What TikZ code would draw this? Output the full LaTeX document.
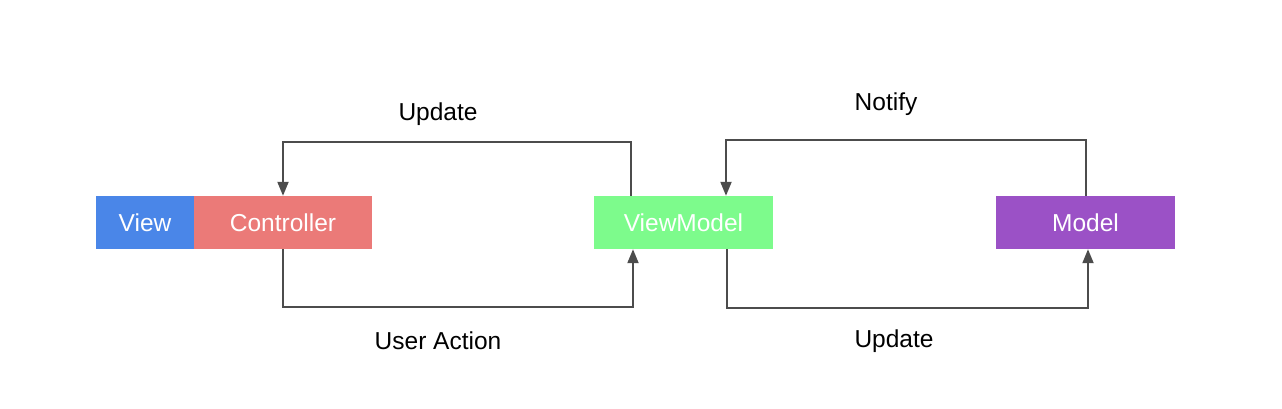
\documentclass[tikz,border=0pt]{standalone}
\usepackage{fontspec}
\setmainfont{Liberation Sans}
\usepackage{tikz}
\usetikzlibrary{arrows.meta}
\definecolor{viewblue}{HTML}{4A86E8}
\definecolor{ctrlred}{HTML}{EB7A78}
\definecolor{vmgreen}{HTML}{7DFB8C}
\definecolor{modelpurple}{HTML}{9B51C6}
\tikzset{part/.style={rectangle, inner sep=0pt, minimum height=53pt, text=white,
    font=\fontsize{24.5}{28}\selectfont}}
\tikzset{flow/.style={draw=black!70, line width=2pt,
    -{Triangle[length=14pt,width=11pt]}}}
\tikzset{lbl/.style={font=\fontsize{24.5}{28}\selectfont}}

\begin{document}
\begin{tikzpicture}[x=1pt,y=-1pt]
  \useasboundingbox (0,0) rectangle (1282,408);
  \foreach \x/\w/\col/\name/\txt in {
    145/98/viewblue/view/View,
    283/178/ctrlred/ctrl/Controller,
    683.5/179/vmgreen/vm/ViewModel,
    1085.5/179/modelpurple/model/Model%
  } {
    \node[part, fill=\col, minimum width=\w pt] (\name) at (\x, 222.5) {\txt};
  }

  \foreach \x/\y/\name/\txt in {
    438/114/updtop/Update,
    886/104/notify/Notify,
    438/341/useract/User Action,
    894/341/updbot/Update%
  } {
    \node[lbl] (\name) at (\x, \y) {\txt};
  }

  \draw[flow] ([xshift=-52.5pt]vm.north) -- ++(0,-54) -| (ctrl.north);
  \draw[flow] (ctrl.south) -- ++(0,58) -| ([xshift=-50.5pt]vm.south);
  \draw[flow] (model.north) -- ++(0,-56) -| ([xshift=42.5pt]vm.north);
  \draw[flow] ([xshift=43.5pt]vm.south) -- ++(0,59) -| ([xshift=2.5pt]model.south);
\end{tikzpicture}
\end{document}
